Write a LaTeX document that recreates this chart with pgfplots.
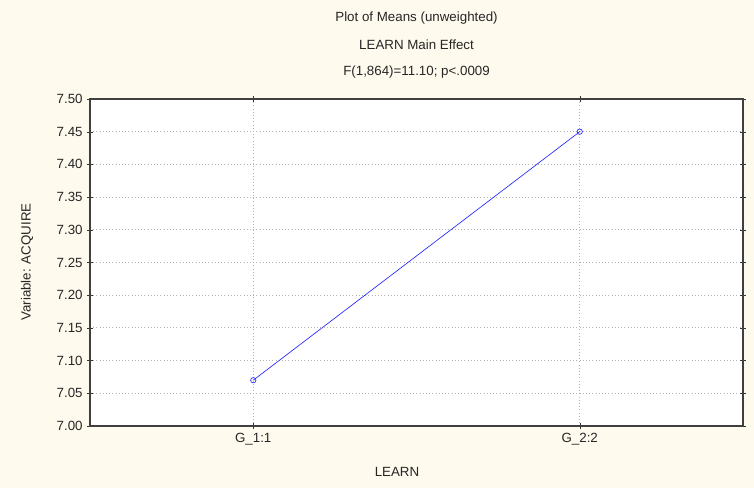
\documentclass[border=0pt]{standalone}
\usepackage{pgfplots}
\pgfplotsset{compat=1.18}
\usepackage{fontspec}
\setmainfont{Liberation Sans}
\definecolor{panel}{RGB}{255,250,238}
\definecolor{meanline}{RGB}{40,40,255}

\begin{document}
\begin{tikzpicture}
% page background
\fill[panel] (-67.5pt,-46.5pt) rectangle (498pt,319.5pt);
\begin{axis}[
  at={(0pt,0pt)}, anchor=south west,
  scale only axis,
  width=489.75pt, height=245.25pt,
  xmin=0.5, xmax=2.5,
  ymin=7.0, ymax=7.5,
  xtick={1,2},
  xticklabels={G\_1:1, G\_2:2},
  ytick={7.00,7.05,...,7.50},
  minor y tick num=4,
  yticklabel style={/pgf/number format/.cd, fixed, fixed zerofill, precision=2},
  /pgf/number format/assume math mode=true,
  tick label style={font=\fontsize{10}{12}\selectfont, text=black!85},
  tick align=center,
  major tick length=4pt,
  minor tick length=2pt,
  tick style={black!80},
  axis line style={black!75, line width=0.8pt},
  axis background/.style={fill=white},
  grid=major,
  major grid style={gray!60, dotted, line width=0.6pt},
  clip=false,
]
\addplot[meanline, line width=0.5pt, mark=o, mark size=2pt, mark options={solid, fill=white}]
  coordinates {(1,7.07) (2,7.45)};
\end{axis}
% titles and axis labels
\node[font=\fontsize{10}{12}\selectfont, text=black!85] at (244.9pt,306pt) {Plot of Means (unweighted)};
\node[font=\fontsize{10}{12}\selectfont, text=black!85] at (244.9pt,285.75pt) {LEARN Main Effect};
\node[font=\fontsize{10}{12}\selectfont, text=black!85] at (244.9pt,265.5pt) {F(1,864)=11.10; p<.0009};
\node[font=\fontsize{10}{12}\selectfont, text=black!85, rotate=90] at (-47.25pt,123pt) {Variable: ACQUIRE};
\node[font=\fontsize{10}{12}\selectfont, text=black!85] at (230.25pt,-34.5pt) {LEARN};
\end{tikzpicture}
\end{document}
